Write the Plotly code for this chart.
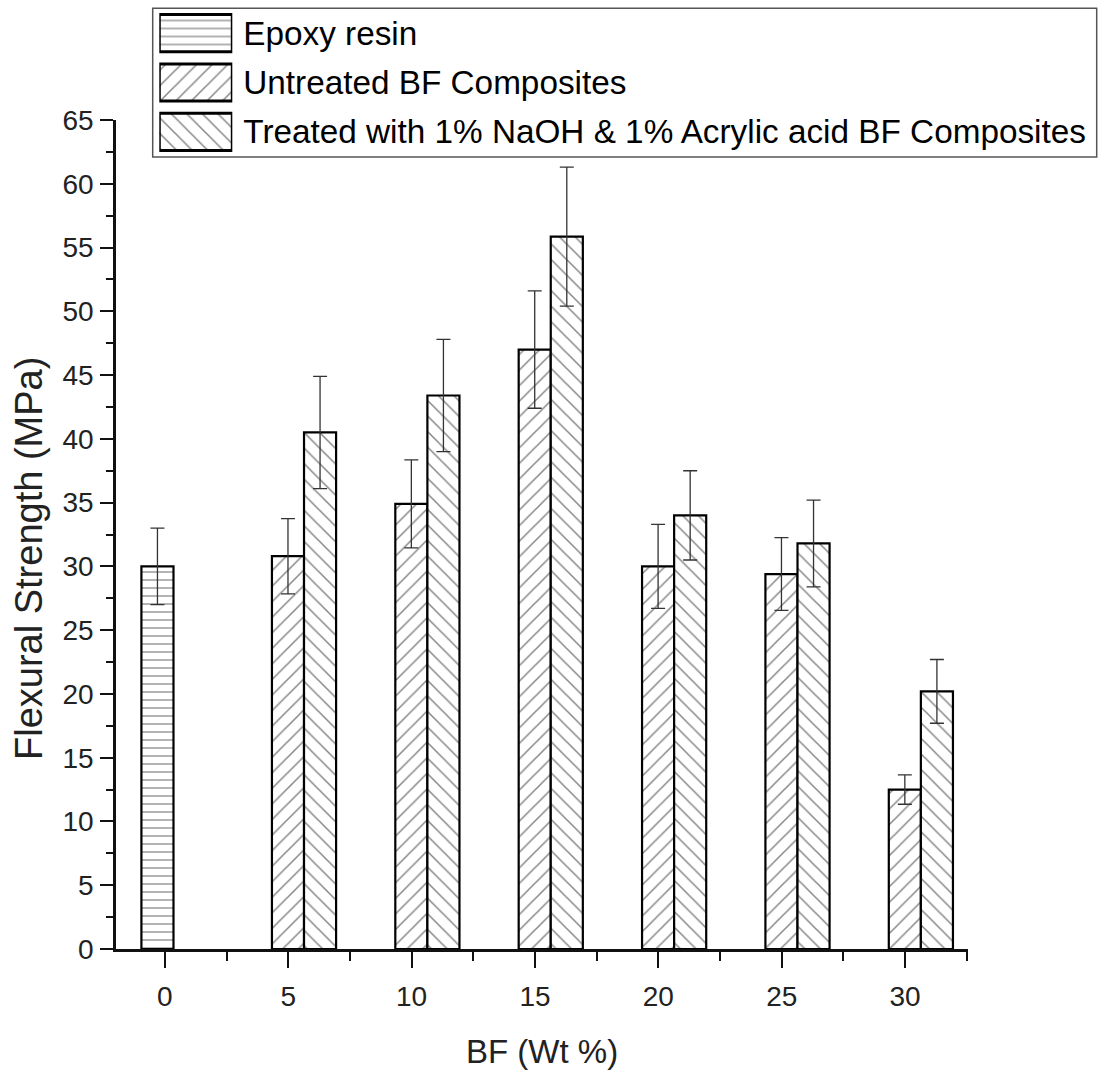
import plotly.graph_objects as go

# ---------------- data ----------------
series_names = [
    "Epoxy resin",
    "Untreated BF Composites",
    "Treated with 1% NaOH & 1% Acrylic acid BF Composites",
]
epoxy_x = [0]
epoxy_y = [30.0]
epoxy_err = [3.0]

bf_x = [5, 10, 15, 20, 25, 30]
untreated_y = [30.8, 34.9, 47.0, 30.0, 29.4, 12.5]
untreated_err = [2.95, 3.45, 4.6, 3.3, 2.85, 1.15]
treated_y = [40.5, 43.4, 55.85, 34.0, 31.8, 20.2]
treated_err = [4.4, 4.4, 5.45, 3.5, 3.4, 2.5]

x_title = "BF (Wt %)"
y_title = "Flexural Strength (MPa)"

# ---------------- style ----------------
W, H = 1111, 1077
FONT = "Liberation Sans, Arial, sans-serif"
patterns = ["-", "/", "\\"]
pattern_sizes = [8, 11, 11]
pattern_solidity = [0.16, 0.14, 0.14]
bar_width = 1.3
bar_offsets = [-0.95, -0.66, 0.64]

def px_x(p):
    return p / W

def px_y(p):
    return 1 - p / H

fig = go.Figure()

def add_series(x, y, err, idx):
    fig.add_trace(go.Bar(
        x=x, y=y, name=series_names[idx],
        width=bar_width, offset=bar_offsets[idx],
        marker=dict(color="white",
                    line=dict(color="#000", width=2.2),
                    pattern=dict(shape=patterns[idx], fgcolor="#111", bgcolor="white",
                                 size=pattern_sizes[idx], solidity=pattern_solidity[idx])),
        error_y=dict(type="data", array=err, visible=True, color="#333",
                     thickness=1.3, width=7),
        showlegend=False, xaxis="x", yaxis="y",
    ))

add_series(epoxy_x, epoxy_y, epoxy_err, 0)
add_series(bf_x, untreated_y, untreated_err, 1)
add_series(bf_x, treated_y, treated_err, 2)

# custom legend swatches (drawn on their own small axes)
SWATCH = 1
for i, name in enumerate(series_names):
    fig.add_trace(go.Bar(
        x=[SWATCH], y=[name], orientation="h", width=0.755,
        marker=dict(color="white",
                    line=dict(color="#000", width=3),
                    pattern=dict(shape=patterns[i], fgcolor="#111", bgcolor="white",
                                 size=pattern_sizes[i], solidity=pattern_solidity[i])),
        showlegend=False, xaxis="x2", yaxis="y2", hoverinfo="skip",
    ))

tick_font = dict(family=FONT, size=28, color="#222")

fig.update_layout(
    width=W, height=H,
    margin=dict(l=0, r=0, t=0, b=0),
    paper_bgcolor="white", plot_bgcolor="rgba(0,0,0,0)",
    barmode="overlay",
    showlegend=False,
    font=dict(family=FONT),
    xaxis=dict(
        domain=[px_x(116), px_x(968)], range=[-1.98, 32.55],
        tickmode="linear", tick0=0, dtick=5,
        ticks="outside", ticklen=16, tickwidth=2, tickcolor="#111",
        minor=dict(dtick=2.5, tick0=0, ticks="outside", ticklen=9,
                   tickwidth=2, tickcolor="#111"),
        showline=True, linecolor="#111", linewidth=2.5,
        showgrid=False, zeroline=False,
        tickfont=tick_font, ticklabelstandoff=5,
        automargin=False, anchor="y",
    ),
    yaxis=dict(
        domain=[px_y(949), px_y(120)], range=[0, 65],
        tickmode="linear", tick0=0, dtick=5,
        ticks="outside", ticklen=13, tickwidth=2, tickcolor="#111",
        minor=dict(dtick=2.5, tick0=0, ticks="outside", ticklen=7,
                   tickwidth=2, tickcolor="#111"),
        showline=True, linecolor="#111", linewidth=2.5,
        showgrid=False, zeroline=False,
        tickfont=tick_font, ticklabelstandoff=1,
        automargin=False, anchor="x",
    ),
    xaxis2=dict(
        domain=[px_x(159.3), px_x(232.3)], range=[0, SWATCH],
        visible=False, fixedrange=True, anchor="y2",
    ),
    yaxis2=dict(
        domain=[px_y(156.5), px_y(8.5)],
        categoryorder="array", categoryarray=series_names,
        autorange="reversed", side="right", anchor="x2",
        showgrid=False, zeroline=False, showline=False, ticks="",
        tickfont=dict(family=FONT, size=33.3, color="#000"),
        ticklabelstandoff=10, automargin=False, fixedrange=True,
    ),
    shapes=[dict(
        type="rect", xref="paper", yref="paper", layer="below",
        x0=px_x(152.7), x1=px_x(1096.7), y0=px_y(157), y1=px_y(8.3),
        line=dict(color="#555", width=1.5), fillcolor="white",
    )],
    annotations=[
        dict(text=y_title, xref="paper", yref="paper",
             x=px_x(29), y=px_y(559), textangle=-90,
             xanchor="center", yanchor="middle", showarrow=False,
             font=dict(family=FONT, size=38, color="#222")),
        dict(text=x_title, xref="paper", yref="paper",
             x=px_x(542), y=px_y(1051), xanchor="center", yanchor="middle",
             showarrow=False,
             font=dict(family=FONT, size=33, color="#222")),
    ],
)

fig.write_html("out.html")
